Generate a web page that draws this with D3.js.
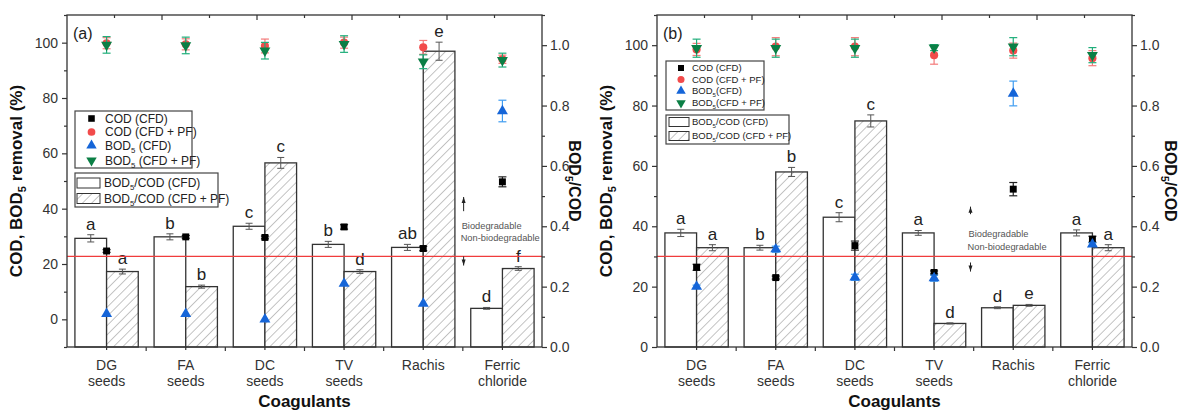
<!DOCTYPE html>
<html><head><meta charset="utf-8">
<script src="https://cdn.jsdelivr.net/npm/d3@7"></script>
<style>body{margin:0;background:#fff}svg{font-family:"Liberation Sans",Arial,sans-serif}</style>
</head><body><svg id="chart" width="1182" height="410"></svg>
<script>
// ---------- data ----------
const categories = [["DG","seeds"],["FA","seeds"],["DC","seeds"],["TV","seeds"],["Rachis"],["Ferric","chloride"]];
const leftTicks = [0,20,40,60,80,100];
const rightTicks = [0,0.2,0.4,0.6,0.8,1.0];
const threshold = 0.3;

// panel (a)
const ratioCFD_a = [0.36, 0.365, 0.40, 0.34, 0.33, 0.128];
const ratioCFDErr_a = [0.012, 0.01, 0.01, 0.01, 0.01, 0.003];
const ratioPF_a = [0.25, 0.20, 0.61, 0.25, 0.98, 0.26];
const ratioPFErr_a = [0.008, 0.005, 0.018, 0.006, 0.03, 0.006];
const lettersCFD_a = ["a","b","c","b","ab","d"];
const lettersPF_a = ["a","b","c","d","e","f"];
const codCFD_a = [24.7, 29.8, 29.6, 33.4, 25.6, 49.7];
const codCFDErr_a = [0.5, 0.5, 0.5, 0.8, 0.8, 1.8];
const codPF_a = [99.8, 99.4, 98.8, 100, 98.3, 94.0];
const codPFErr_a = [2, 2, 2.5, 2, 2.5, 1.5];
const bodCFD_a = [2, 2, 0, 12.9, 5.7, 75.3];
const bodCFDErr_a = [0, 0, 0, 0, 0, 3.9];
const bodPF_a = [99.2, 99, 97.1, 99.5, 93.1, 93.7];
const bodPFErr_a = [3, 3, 3, 3, 2.5, 2.5];

// panel (b)
const ratioCFD_b = [0.378, 0.329, 0.43, 0.378, 0.13, 0.378];
const ratioCFDErr_b = [0.012, 0.008, 0.015, 0.008, 0.003, 0.01];
const ratioPF_b = [0.329, 0.58, 0.749, 0.078, 0.138, 0.329];
const ratioPFErr_b = [0.01, 0.015, 0.02, 0.002, 0.003, 0.01];
const lettersCFD_b = ["a","b","c","a","d","a"];
const lettersPF_b = ["a","b","c","d","e","a"];
const codCFD_b = [26.4, 23, 33.6, 24.7, 52.3, 35.7];
const codCFDErr_b = [1, 0.5, 1.5, 0.5, 2.2, 1];
const codPF_b = [98.6, 99.5, 99.5, 96.7, 98.2, 95.7];
const codPFErr_b = [2, 3, 3, 3, 2.5, 2.5];
const bodCFD_b = [20, 32.4, 23.1, 22.8, 84, 34];
const bodCFDErr_b = [0.5, 1, 1, 1, 4.1, 0.5];
const bodPF_b = [99, 99, 99, 99.2, 99.5, 96.7];
const bodPFErr_b = [3, 3, 3, 1, 3, 2.5];

// ---------- drawing ----------
const svg = d3.select("#chart");
const defs = svg.append("defs");
const pat = defs.append("pattern").attr("id","hatch").attr("patternUnits","userSpaceOnUse")
  .attr("width",6.5).attr("height",6.5).attr("patternTransform","rotate(45)");
pat.append("rect").attr("width",6.5).attr("height",6.5).attr("fill","#fff");
pat.append("line").attr("x1",0).attr("y1",0).attr("x2",0).attr("y2",6.5).attr("stroke","#8a8a8a").attr("stroke-width",1);

const AX = "#333";
const styles = {
  cod:   {fill:"#000", err:"#222", sym:d3.symbolSquare, size:48, rot:0},
  codPF: {fill:"#f24b4b", err:"#f47a7a", sym:d3.symbolCircle, size:52, rot:0},
  bod:   {fill:"#1565d8", err:"#3f9cf0", sym:d3.symbolTriangle, size:52, rot:0},
  bodPF: {fill:"#0b7f45", err:"#1fae7a", sym:d3.symbolTriangle, size:52, rot:180}
};

function richText(sel, parts, fs){
  parts.forEach(p=>{
    if(p[1]==="sub") sel.append("tspan").attr("font-size",fs*0.65).attr("dy",fs*0.25).text(p[0]);
    else if(p[1]==="after") sel.append("tspan").attr("dy",-fs*0.25).text(p[0]);
    else sel.append("tspan").text(p[0]);
  });
}

function drawPanel(cfg){
  const g = svg.append("g");
  const {L,R,T,B} = cfg;
  const x = d3.scaleBand().domain(d3.range(categories.length)).range([L,R]).padding(0);
  const bw = x.bandwidth();
  const sub = d3.scaleBand().domain(["CFD","PF"]).range([bw*0.1, bw*0.9]).padding(0);
  const yL = d3.scaleLinear().domain(cfg.leftDomain).range([B,T]);
  const yR = d3.scaleLinear().domain([0,1.1]).range([B,T]);
  const cx = i => x(i)+bw/2;

  // bars
  const bars = [
    {key:"CFD", v:cfg.ratioCFD, e:cfg.ratioCFDErr, l:cfg.lettersCFD, fill:"#fff"},
    {key:"PF", v:cfg.ratioPF, e:cfg.ratioPFErr, l:cfg.lettersPF, fill:"url(#hatch)"}
  ];
  bars.forEach(s=>{
    g.append("g").selectAll("rect").data(s.v).join("rect")
      .attr("x",(d,i)=>x(i)+sub(s.key)).attr("width",sub.bandwidth())
      .attr("y",d=>yR(d)).attr("height",d=>B-yR(d))
      .attr("fill",s.fill).attr("stroke",AX).attr("stroke-width",1.3);
  });
  bars.forEach(s=>{
    const eg = g.append("g").attr("stroke","#555").attr("stroke-width",1);
    s.v.forEach((d,i)=>{
      const xc = x(i)+sub(s.key)+sub.bandwidth()/2;
      const y1 = yR(d+s.e[i]), y2 = yR(d-s.e[i]);
      eg.append("line").attr("x1",xc).attr("x2",xc).attr("y1",y1).attr("y2",y2);
      eg.append("line").attr("x1",xc-3.5).attr("x2",xc+3.5).attr("y1",y1).attr("y2",y1);
      eg.append("line").attr("x1",xc-3.5).attr("x2",xc+3.5).attr("y1",y2).attr("y2",y2);
      g.append("text").attr("x",xc).attr("y",y1-5).attr("text-anchor","middle")
        .attr("font-size",17).attr("fill","#222").text(s.l[i]);
    });
  });

  // threshold line
  g.append("line").attr("x1",L).attr("x2",R).attr("y1",yR(threshold)).attr("y2",yR(threshold))
    .attr("stroke","#f03c3c").attr("stroke-width",1.3);

  // biodegradable annotation
  const ax = L + (R-L)*cfg.annX;
  const ag = g.append("g");
  const arrow = (y1,y2)=>{
    ag.append("line").attr("x1",ax).attr("x2",ax).attr("y1",yR(y1)).attr("y2",yR(y2)).attr("stroke","#222").attr("stroke-width",1);
    const yt = yR(y2), dir = y2>y1 ? 1 : -1;
    ag.append("path").attr("d",`M${ax},${yt} L${ax-2},${yt+dir*6} L${ax+2},${yt+dir*6} Z`).attr("fill","#222");
  };
  arrow(cfg.annUp[0], cfg.annUp[1]);
  arrow(cfg.annDown[0], cfg.annDown[1]);
  ag.append("text").attr("x",ax-2).attr("y",yR(cfg.annText[0])+3).attr("font-size",9.3).attr("fill","#555").text("Biodegradable");
  ag.append("text").attr("x",ax-3).attr("y",yR(cfg.annText[1])+3).attr("font-size",9.3).attr("fill","#555").text("Non-biodegradable");

  // points
  const pts = [
    {st:styles.cod, v:cfg.cod, e:cfg.codErr},
    {st:styles.codPF, v:cfg.codPF, e:cfg.codPFErr},
    {st:styles.bod, v:cfg.bod, e:cfg.bodErr},
    {st:styles.bodPF, v:cfg.bodPF, e:cfg.bodPFErr}
  ];
  pts.forEach(p=>{
    const pg = g.append("g");
    p.v.forEach((d,i)=>{
      if(p.e[i]>0){
        const y1=yL(d+p.e[i]), y2=yL(d-p.e[i]), xc=cx(i);
        pg.append("line").attr("x1",xc).attr("x2",xc).attr("y1",y1).attr("y2",y2).attr("stroke",p.st.err).attr("stroke-width",1.2);
        pg.append("line").attr("x1",xc-4).attr("x2",xc+4).attr("y1",y1).attr("y2",y1).attr("stroke",p.st.err).attr("stroke-width",1.2);
        pg.append("line").attr("x1",xc-4).attr("x2",xc+4).attr("y1",y2).attr("y2",y2).attr("stroke",p.st.err).attr("stroke-width",1.2);
      }
      pg.append("path").attr("d",d3.symbol(p.st.sym,p.st.size)())
        .attr("transform",`translate(${cx(i)},${yL(d)}) rotate(${p.st.rot})`).attr("fill",p.st.fill);
    });
  });

  // frame
  g.append("rect").attr("x",L).attr("y",T).attr("width",R-L).attr("height",B-T)
    .attr("fill","none").attr("stroke",AX).attr("stroke-width",1.3);

  // left axis
  const minorL = d3.range(cfg.leftDomain[0], cfg.leftDomain[1]+0.1, 10).filter(v=>!leftTicks.includes(v));
  const la = g.append("g").attr("transform",`translate(${L},0)`)
    .call(d3.axisLeft(yL).tickValues(leftTicks).tickSize(5).tickPadding(4).tickFormat(d3.format("d")));
  la.append("g").call(d3.axisLeft(yL).tickValues(minorL).tickSize(3).tickFormat(""));
  // right axis
  const minorR = d3.range(0.1, 1.15, 0.2).map(v=>+v.toFixed(1));
  const ra = g.append("g").attr("transform",`translate(${R},0)`)
    .call(d3.axisRight(yR).tickValues(rightTicks).tickSize(5).tickPadding(3).tickFormat(d3.format(".1f")));
  ra.append("g").call(d3.axisRight(yR).tickValues(minorR).tickSize(3).tickFormat(""));
  [la,ra].forEach(a=>{
    a.selectAll(".domain").remove();
    a.selectAll("line").attr("stroke",AX).attr("stroke-width",1.2);
    a.selectAll("text").attr("font-size",14).attr("fill","#333").attr("font-family",null);
  });

  // bottom ticks (category boundaries + centers)
  const bt = g.append("g").attr("stroke",AX).attr("stroke-width",1.2);
  d3.range(1,categories.length).forEach(i=>bt.append("line").attr("x1",x(i)).attr("x2",x(i)).attr("y1",B).attr("y2",B+4));
  d3.range(categories.length).forEach(i=>bt.append("line").attr("x1",cx(i)).attr("x2",cx(i)).attr("y1",B).attr("y2",B+3));
  // top ticks (inward)
  const tx = d3.scaleLinear().domain([0,10]).range([L,R]);
  d3.range(1,10).forEach(k=>bt.append("line").attr("x1",tx(k)).attr("x2",tx(k)).attr("y1",T).attr("y2",T+(k%2===0?5:3)));

  // category labels
  categories.forEach((lines,i)=>{
    lines.forEach((t,j)=>{
      g.append("text").attr("x",cx(i)).attr("y",B+23+j*16).attr("text-anchor","middle")
        .attr("font-size",14).attr("fill","#333").text(t);
    });
  });

  // titles
  g.append("text").attr("x",(L+R)/2).attr("y",407).attr("text-anchor","middle")
    .attr("font-size",17).attr("font-weight","bold").attr("fill","#111").text("Coagulants");
  const lt = g.append("text").attr("transform",`translate(${cfg.leftTitleX},${(T+B)/2}) rotate(-90)`)
    .attr("text-anchor","middle").attr("font-size",17).attr("font-weight","bold").attr("fill","#111");
  richText(lt, [["COD, BOD"],["5","sub"],[" removal (%)","after"]], 17);
  const rt = g.append("text").attr("transform",`translate(${cfg.rightTitleX},${(T+B)/2}) rotate(90)`)
    .attr("text-anchor","middle").attr("font-size",16).attr("font-weight","bold").attr("fill","#111");
  richText(rt, [["BOD"],["5","sub"],["/COD","after"]], 16);

  g.append("text").attr("x",L+6).attr("y",T+24).attr("font-size",16).attr("fill","#222").text(cfg.label);

  // legends
  const lg = cfg.legend;
  const l1 = g.append("g");
  l1.append("rect").attr("x",lg.b1[0]).attr("y",lg.b1[1]).attr("width",lg.b1[2]).attr("height",lg.b1[3])
    .attr("fill","#fff").attr("stroke","#444").attr("stroke-width",1.2);
  const names = [
    [["COD (CFD)"]],
    [["COD (CFD + PF)"]],
    [["BOD"],["5","sub"],[lg.bodSuffix[0],"after"]],
    [["BOD"],["5","sub"],[lg.bodSuffix[1],"after"]]
  ];
  const sts = [styles.cod, styles.codPF, styles.bod, styles.bodPF];
  names.forEach((n,k)=>{
    const yy = lg.rows[k];
    l1.append("path").attr("d",d3.symbol(sts[k].sym, sts[k].size*lg.msc)())
      .attr("transform",`translate(${lg.mx},${yy}) rotate(${sts[k].rot})`).attr("fill",sts[k].fill);
    const t = l1.append("text").attr("x",lg.tx).attr("y",yy+lg.fs*0.36).attr("font-size",lg.fs).attr("fill","#222");
    richText(t, n, lg.fs);
  });
  const l2 = g.append("g");
  l2.append("rect").attr("x",lg.b2[0]).attr("y",lg.b2[1]).attr("width",lg.b2[2]).attr("height",lg.b2[3])
    .attr("fill","#fff").attr("stroke","#444").attr("stroke-width",1.2);
  const fills = ["#fff","url(#hatch)"];
  const sfx = [" (CFD)"," (CFD + PF)"];
  [0,1].forEach(k=>{
    const yy = lg.rows2[k];
    l2.append("rect").attr("x",lg.sw[0]).attr("y",yy-lg.sw[2]/2).attr("width",lg.sw[1]).attr("height",lg.sw[2])
      .attr("fill",fills[k]).attr("stroke",AX).attr("stroke-width",1);
    const t = l2.append("text").attr("x",lg.tx2).attr("y",yy+lg.fs*0.36).attr("font-size",lg.fs).attr("fill","#222");
    richText(t, [["BOD"],["5","sub"],["/COD"+sfx[k],"after"]], lg.fs);
  });
}

drawPanel({
  L:67, R:542, T:15, B:347, leftDomain:[-10,110], label:"(a)",
  leftTitleX:22, rightTitleX:569,
  ratioCFD:ratioCFD_a, ratioCFDErr:ratioCFDErr_a, ratioPF:ratioPF_a, ratioPFErr:ratioPFErr_a,
  lettersCFD:lettersCFD_a, lettersPF:lettersPF_a,
  cod:codCFD_a, codErr:codCFDErr_a, codPF:codPF_a, codPFErr:codPFErr_a,
  bod:bodCFD_a, bodErr:bodCFDErr_a, bodPF:bodPF_a, bodPFErr:bodPFErr_a,
  annX:0.835, annUp:[0.45,0.497], annDown:[0.30,0.27], annText:[0.40,0.36],
  legend:{b1:[75,111,117,57], rows:[118.5,132,145.5,160.5], mx:91.5, tx:105, fs:12, msc:0.9,
          bodSuffix:[" (CFD)"," (CFD + PF)"],
          b2:[75,173,143,34], rows2:[183,198.5], sw:[77,23,10], tx2:104}
});
drawPanel({
  L:657, R:1132, T:15, B:347, leftDomain:[0,110], label:"(b)",
  leftTitleX:612, rightTitleX:1165,
  ratioCFD:ratioCFD_b, ratioCFDErr:ratioCFDErr_b, ratioPF:ratioPF_b, ratioPFErr:ratioPFErr_b,
  lettersCFD:lettersCFD_b, lettersPF:lettersPF_b,
  cod:codCFD_b, codErr:codCFDErr_b, codPF:codPF_b, codPFErr:codPFErr_b,
  bod:bodCFD_b, bodErr:bodCFDErr_b, bodPF:bodPF_b, bodPFErr:bodPFErr_b,
  annX:0.66, annUp:[0.44,0.465], annDown:[0.28,0.25], annText:[0.375,0.33],
  legend:{b1:[666,61,98,49], rows:[68,79.5,91,103], mx:681, tx:692, fs:9.5, msc:0.75,
          bodSuffix:["(CFD)","(CFD + PF)"],
          b2:[666,115,123,29], rows2:[122,136], sw:[669,20,9], tx2:692}
});
</script></body></html>
